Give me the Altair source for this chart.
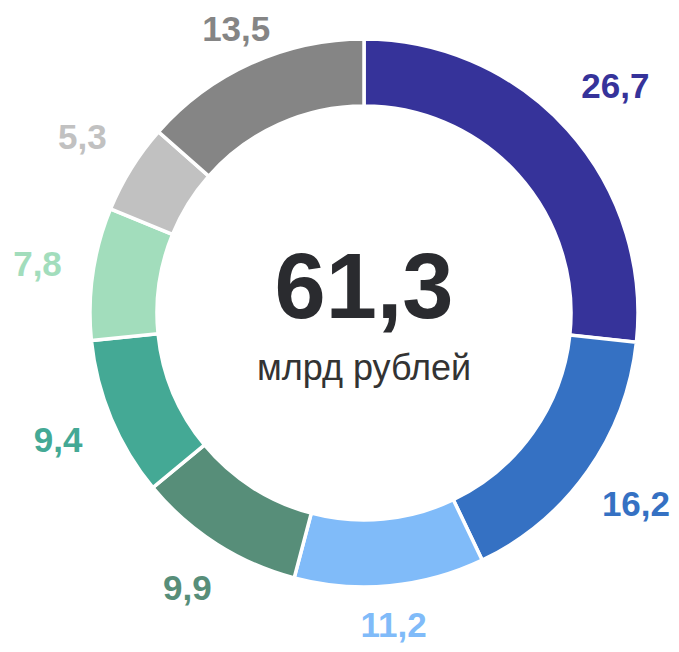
import altair as alt
import numpy as np
import pandas as pd

values = [26.7, 16.2, 11.2, 9.9, 9.4, 7.8, 5.3, 13.5]
labels = ["26,7", "16,2", "11,2", "9,9", "9,4", "7,8", "5,3", "13,5"]
colors = ["#36339A", "#3571C3", "#80BBF9", "#578E79", "#44A995", "#A2DDBC", "#C1C1C1", "#858585"]
total_text = "61,3"
unit_text = "млрд рублей"

W, H = 663, 636
CX, CY = 356, 305
OUTER, INNER = 274, 207
LABEL_FS = 35
GAP = 32
TOP_ROOM, BOTTOM_ROOM, SIDE_ROOM = 22, 18, 1  # keep labels inside the chart

v = np.array(values)
total = float(v.sum())
df = pd.DataFrame({
    "idx": list(range(len(values))),
    "value": values,
    "label": labels,
    "color": colors,
})
df["mid"] = np.cumsum(v) - v / 2
# label radius: keep the label's box a fixed gap away from the ring
ang = df["mid"].to_numpy() / total * 2 * np.pi
half_w = np.array([LABEL_FS * (0.556 * (len(s) - 1) + 0.278) / 2 for s in labels])
half_h = LABEL_FS * 0.37
sin_a, cos_a = np.sin(ang), np.cos(ang)
r = (OUTER - 2) + GAP + half_w * np.abs(sin_a) + half_h * np.abs(cos_a)
eps = 0.05
lim_top = np.where(cos_a > eps, (CY - TOP_ROOM) / np.maximum(cos_a, eps), np.inf)
lim_bot = np.where(cos_a < -eps, (H - BOTTOM_ROOM - CY) / np.maximum(-cos_a, eps), np.inf)
lim_right = np.where(sin_a > eps, (W - SIDE_ROOM - half_w - CX) / np.maximum(sin_a, eps), np.inf)
lim_left = np.where(sin_a < -eps, (CX - SIDE_ROOM - half_w) / np.maximum(-sin_a, eps), np.inf)
df["r"] = np.minimum.reduce([r, lim_top, lim_bot, lim_right, lim_left])

theta_scale = alt.Scale(domain=[0, total])

arcs = alt.Chart(df).mark_arc(
    outerRadius=OUTER, innerRadius=INNER, stroke="white", strokeWidth=3.5
).encode(
    theta=alt.Theta("value:Q", stack=True, scale=theta_scale),
    order=alt.Order("idx:Q"),
    color=alt.Color("color:N", scale=None),
    x=alt.value(CX), y=alt.value(CY),
)

texts = alt.Chart(df).mark_text(
    font="Liberation Sans", fontWeight="bold", fontSize=LABEL_FS,
    align="center", baseline="middle"
).encode(
    theta=alt.Theta("mid:Q", stack=None, scale=theta_scale),
    radius=alt.Radius("r:Q", scale=None),
    color=alt.Color("color:N", scale=None),
    text="label:N",
    x=alt.value(CX), y=alt.value(CY),
)

center = alt.Chart(pd.DataFrame({"t": [total_text]})).mark_text(
    font="Liberation Sans", fontWeight="bold", fontSize=92, color="#2A2B2F",
    align="center", baseline="alphabetic"
).encode(text="t:N", x=alt.value(CX), y=alt.value(CY + 5))

unit = alt.Chart(pd.DataFrame({"t": [unit_text]})).mark_text(
    font="Liberation Sans", fontSize=36, color="#333333",
    align="center", baseline="alphabetic"
).encode(text="t:N", x=alt.value(CX), y=alt.value(CY + 67))

chart = alt.layer(arcs, texts, center, unit).properties(
    width=W, height=H, autosize=alt.AutoSizeParams(type="none"), padding=0
).configure_view(stroke=None)

chart.save("out.html", embed_options={"renderer": "svg", "actions": False})
